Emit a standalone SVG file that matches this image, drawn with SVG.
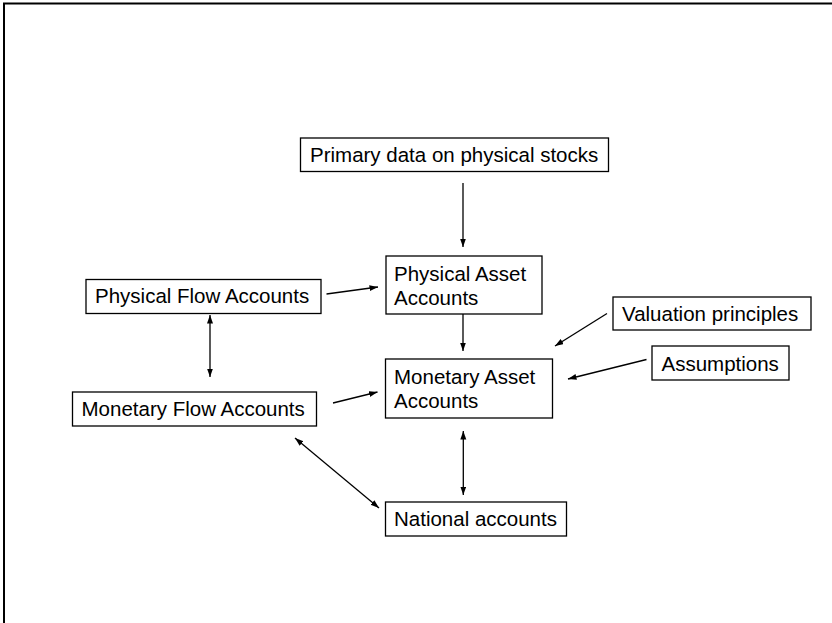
<svg xmlns="http://www.w3.org/2000/svg" width="832" height="623" viewBox="0 0 832 623">
<style>
.box{fill:#fff;stroke:#000;stroke-width:1.3}
.t{font-family:"Liberation Sans",Arial,sans-serif;font-size:20.5px;fill:#000}
.c{stroke:#000;stroke-width:1.3;fill:none}
</style>
<defs>
<marker id="ah" markerUnits="userSpaceOnUse" markerWidth="10" markerHeight="8" refX="8.5" refY="3" orient="auto-start-reverse">
<path d="M0,0 L8.5,3 L0,6 z" fill="#000"/>
</marker>
</defs>
<rect width="832" height="623" fill="#fff"/>
<rect x="4" y="3.5" width="900" height="700" fill="none" stroke="#000" stroke-width="2"/>
<g id="primary"><rect class="box" x="300.5" y="138" width="308" height="33.5"/><text class="t" x="310" y="162">Primary data on physical stocks</text></g>
<g id="physasset"><rect class="box" x="386" y="256" width="156" height="58"/><text class="t" x="394" y="281">Physical Asset</text><text class="t" x="394" y="305">Accounts</text></g>
<g id="monasset"><rect class="box" x="385.5" y="359" width="167" height="59"/><text class="t" x="394" y="384">Monetary Asset</text><text class="t" x="394" y="408">Accounts</text></g>
<g id="physflow"><rect class="box" x="86" y="279.5" width="235" height="34"/><text class="t" x="95" y="303">Physical Flow Accounts</text></g>
<g id="monflow"><rect class="box" x="72.5" y="392" width="244" height="34"/><text class="t" x="81.5" y="416">Monetary Flow Accounts</text></g>
<g id="national"><rect class="box" x="385.5" y="502" width="181" height="34"/><text class="t" x="394" y="526">National accounts</text></g>
<g id="valuation"><rect class="box" x="613" y="297" width="198" height="33"/><text class="t" x="622" y="321">Valuation principles</text></g>
<g id="assumptions"><rect class="box" x="652" y="346" width="137" height="34"/><text class="t" x="661.5" y="371">Assumptions</text></g>
<g id="connectors">
<line class="c" x1="463" y1="183" x2="463" y2="247" marker-end="url(#ah)"/>
<line class="c" x1="463" y1="314" x2="463" y2="351" marker-end="url(#ah)"/>
<line class="c" x1="326.5" y1="294" x2="378" y2="287" marker-end="url(#ah)"/>
<line class="c" x1="210" y1="315" x2="210" y2="377" marker-start="url(#ah)" marker-end="url(#ah)"/>
<line class="c" x1="333" y1="403" x2="377.5" y2="392" marker-end="url(#ah)"/>
<line class="c" x1="295" y1="438" x2="379" y2="508" marker-start="url(#ah)" marker-end="url(#ah)"/>
<line class="c" x1="463.3" y1="431" x2="463.3" y2="495" marker-start="url(#ah)" marker-end="url(#ah)"/>
<line class="c" x1="607" y1="313.5" x2="555" y2="346" marker-end="url(#ah)"/>
<line class="c" x1="646.5" y1="359.5" x2="568" y2="379" marker-end="url(#ah)"/>
</g>
</svg>
